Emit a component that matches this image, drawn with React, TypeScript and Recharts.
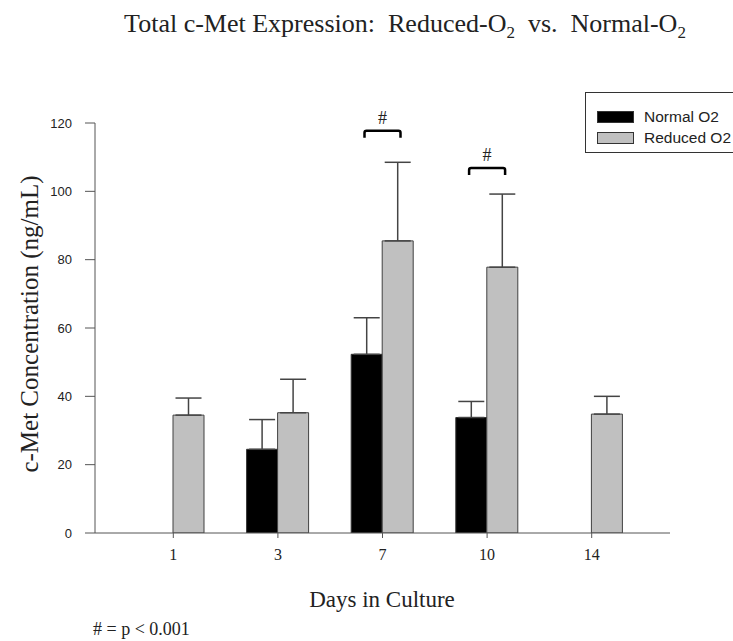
import React from 'react';
import { BarChart, Bar, XAxis, YAxis, ErrorBar, Legend, ReferenceDot } from 'recharts';

const days = ['1', '3', '7', '10', '14'];
const normalO2: (number | null)[] = [null, 24.5, 52.3, 33.8, null];
const normalErr: (number | null)[] = [null, 8.7, 10.7, 4.7, null];
const reducedO2 = [34.5, 35.2, 85.5, 77.8, 34.8];
const reducedErr = [5.0, 9.8, 23.0, 21.4, 5.2];
const yTicks = [0, 20, 40, 60, 80, 100, 120];
const sigDays = ['7', '10'];
const sigLevels = [117.7, 106.8];

const data = days.map((d, i) => ({
  day: d,
  normal: normalO2[i],
  normalErr: normalErr[i] == null ? null : [0, normalErr[i]],
  reduced: reducedO2[i],
  reducedErr: [0, reducedErr[i]],
}));

const serif = '"Liberation Serif", "Times New Roman", serif';
const sans = '"Liberation Sans", Arial, sans-serif';

const Bracket = (props: any) => {
  const { cx, cy } = props;
  const w = 18;
  return (
    <g>
      <path
        d={`M${cx - w},${cy + 7} L${cx - w},${cy + 2} Q${cx - w},${cy} ${cx - w + 2},${cy} L${cx + w - 2},${cy} Q${cx + w},${cy} ${cx + w},${cy + 2} L${cx + w},${cy + 7}`}
        fill="none"
        stroke="#000"
        strokeWidth={2.5}
      />
      <text x={cx} y={cy - 7} textAnchor="middle" fontFamily={serif} fontSize={18} fill="#222">#</text>
    </g>
  );
};

const LegendBox = (props: any) => {
  const { payload } = props;
  return (
    <div style={{ border: '1px solid #333', width: 170, height: 61, boxSizing: 'border-box', padding: '14px 0 0 11px', background: '#fff' }}>
      {(payload || []).map((e: any) => (
        <div key={e.value} style={{ display: 'flex', alignItems: 'center', height: 20, marginBottom: 1 }}>
          <div style={{ width: 35, height: 10, background: e.color, border: '1px solid #333', marginRight: 10 }} />
          <span style={{ fontFamily: sans, fontSize: 15.5, color: '#222', whiteSpace: 'nowrap' }}>{e.value}</span>
        </div>
      ))}
    </div>
  );
};

export default function App() {
  return (
    <div style={{ position: 'absolute', left: 0, top: 0, width: 733, height: 641, background: '#fff', overflow: 'hidden' }}>
      <div style={{ position: 'absolute', left: 405, top: 26, width: 0, height: 0 }}>
        <div style={{ position: 'absolute', transform: 'translate(-50%, -50%)', whiteSpace: 'nowrap', fontFamily: serif, fontSize: 26, color: '#222' }}>
          Total c-Met Expression:{'\u00a0 '}Reduced-O<sub style={{ fontSize: 17 }}>2</sub>{'\u00a0 '}vs.{'\u00a0 '}Normal-O<sub style={{ fontSize: 17 }}>2</sub>
        </div>
      </div>
      <BarChart
        width={733}
        height={641}
        data={data}
        margin={{ top: 123, right: 63, left: 35, bottom: 68 }}
        barGap={0}
        barSize={31}
      >
        <XAxis
          dataKey="day"
          height={40}
          padding={{ left: 26, right: 26 }}
          stroke="#555"
          tickSize={5}
          tick={{ fontFamily: serif, fontSize: 16, fill: '#222' }}
          tickMargin={11}
        />
        <YAxis
          width={60}
          domain={[0, 120]}
          ticks={yTicks}
          stroke="#555"
          tickSize={10}
          tick={{ fontFamily: sans, fontSize: 13, fill: '#222' }}
          tickMargin={13}
          allowDataOverflow
        />
        <Legend
          layout="horizontal"
          verticalAlign="middle"
          align="center"
          content={<LegendBox />}
          wrapperStyle={{ position: 'absolute', left: 585, top: 92, width: 170 }}
        />
        <Bar dataKey="normal" name="Normal O2" fill="#000" stroke="#333" strokeWidth={1} isAnimationActive={false}>
          <ErrorBar dataKey="normalErr" width={13} stroke="#444" strokeWidth={1.5} direction="y" />
        </Bar>
        <Bar dataKey="reduced" name="Reduced O2" fill="#c0c0c0" stroke="#404040" strokeWidth={1} isAnimationActive={false}>
          <ErrorBar dataKey="reducedErr" width={13} stroke="#444" strokeWidth={1.5} direction="y" />
        </Bar>
        {sigDays.map((d, i) => (
          <ReferenceDot key={d} x={d} y={sigLevels[i]} ifOverflow="visible" shape={<Bracket />} />
        ))}
      </BarChart>
      <div style={{ position: 'absolute', left: 382, top: 600, width: 0, height: 0 }}>
        <div style={{ position: 'absolute', transform: 'translate(-50%, -50%)', whiteSpace: 'nowrap', fontFamily: serif, fontSize: 23, color: '#222' }}>
          Days in Culture
        </div>
      </div>
      <div style={{ position: 'absolute', left: 93, top: 629, width: 0, height: 0 }}>
        <div style={{ position: 'absolute', transform: 'translateY(-50%)', whiteSpace: 'nowrap', fontFamily: serif, fontSize: 18, color: '#222' }}>
          # = p &lt; 0.001
        </div>
      </div>
      <div style={{ position: 'absolute', left: 30, top: 324, width: 0, height: 0 }}>
        <div style={{ position: 'absolute', transform: 'translate(-50%, -50%) rotate(-90deg)', whiteSpace: 'nowrap', fontFamily: serif, fontSize: 25, color: '#222' }}>
          c-Met Concentration (ng/mL)
        </div>
      </div>
    </div>
  );
}
